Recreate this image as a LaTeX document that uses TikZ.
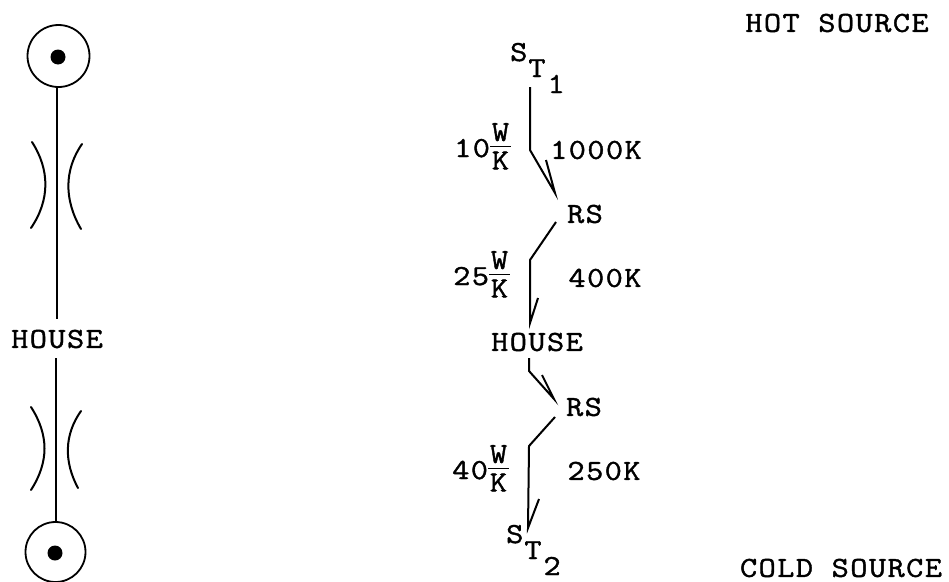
\documentclass[tikz,border=0pt]{standalone}
\usepackage{fontspec}
\setmonofont[FakeStretch=1.15,FakeBold=1.4,LetterSpace=5]{Latin Modern Mono}
\newcommand\frc[2]{\raisebox{4.5pt}{$\vcenter{\offinterlineskip\hbox to 21pt{\hss #1\hss}\kern4.5pt\hrule height 1.5pt\kern4.5pt\hbox to 21pt{\hss #2\hss}}$}}
\tikzset{
  lab/.style={inner sep=0pt,font=\fontsize{29}{29}\selectfont\ttfamily,text=black},
  wire/.style={line width=2pt,black},
  conn/.style={line width=2pt,black,line join=miter},
}
\begin{document}
\begin{tikzpicture}[x=1pt,y=-1pt]
\useasboundingbox (0,0) rectangle (949,581);
% left column
\node[circle,draw,line width=1.8pt,minimum size=62pt,inner sep=0pt] (top) at (58.5,56) {};
\node[circle,fill=black,minimum size=15pt,inner sep=0pt] (topdot) at (58,57) {};
\node[circle,draw,line width=1.8pt,minimum size=60pt,inner sep=0pt] (bot) at (55.5,552) {};
\node[circle,fill=black,minimum size=15pt,inner sep=0pt] (botdot) at (55,553) {};
\node[lab] (house1) at (57,339) {HOUSE};
\draw[wire] ([xshift=-1.5pt]top.south) -- ([xshift=-1.5pt,yshift=11pt]top.south |- house1.north);
\draw[wire] ([yshift=-10pt,xshift=0.3pt]bot.north |- house1.south) -- ([xshift=0.3pt]bot.north);
\draw[wire,line cap=round] (32,142) .. controls (50,170) and (50,200) .. (31,228);
\draw[wire,line cap=round] (82,144) .. controls (64,170) and (64,200) .. (81,229);
\draw[wire,line cap=round] (31,407) .. controls (49,435) and (49,462) .. (31,490);
\draw[wire,line cap=round] (81,411) .. controls (64,435) and (64,462) .. (78,488);
% right column
\node[lab,anchor=base west] (st1) at (510,61) {S\kern1pt\raisebox{-16pt}{T\kern2pt\raisebox{-16pt}{1}}};
\node[lab] (rs1) at (585,214) {RS};
\node[lab] (house2) at (537,342) {HOUSE};
\node[lab] (rs2) at (584,407) {RS};
\node[lab,anchor=base west] (st2) at (506,543) {S\kern1pt\raisebox{-16pt}{T\kern2pt\raisebox{-16pt}{2}}};
\node[lab,anchor=base west] (g1) at (454,157) {10\frc{W}{K}};
\node[lab,anchor=base west] (g2) at (453,285) {25\frc{W}{K}};
\node[lab,anchor=base west] (g3) at (452,479) {40\frc{W}{K}};
\node[lab] (t1) at (596,150) {1000K};
\node[lab] (t2) at (605,278) {400K};
\node[lab] (t3) at (604,471) {250K};
\node[lab] (hot) at (837,23) {HOT SOURCE};
\node[lab] (cold) at (841,568) {COLD SOURCE};
% connectors
\coordinate (a0) at (530,87);
\coordinate (a1) at (530,150);
\coordinate (a2) at (555,193);
\draw[conn] (a0) -- (a1) -- (a2) -- (546,160);
\coordinate (b0) at (556,222);
\coordinate (b1) at (530,260);
\coordinate (b2) at (530,323);
\draw[conn] (b0) -- (b1) -- (b2) -- (538,298);
\coordinate (c0) at (529,358);
\coordinate (c1) at (529,371);
\coordinate (c2) at (554,399);
\draw[conn] (c0) -- (c1) -- (c2) -- (542,375);
\coordinate (d0) at (555,417);
\coordinate (d1) at (529,446);
\coordinate (d2) at (528,528);
\draw[conn] (d0) -- (d1) -- (d2) -- (539,499);
\end{tikzpicture}
\end{document}
